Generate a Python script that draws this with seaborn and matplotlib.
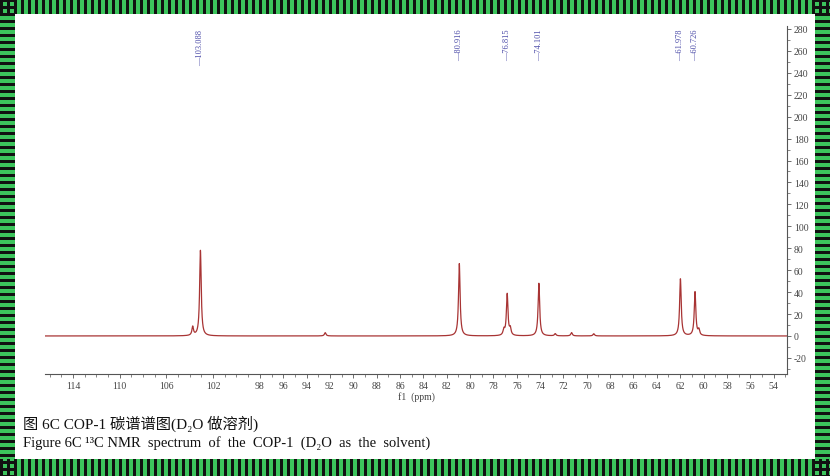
import numpy as np
import pandas as pd
import matplotlib
matplotlib.use('Agg')
import matplotlib.pyplot as plt
from matplotlib.patches import Rectangle
from matplotlib.collections import PatchCollection
from matplotlib.ticker import FixedLocator, MultipleLocator
import matplotlib.transforms as mtransforms
import seaborn as sns

# ---------------- data ----------------
peak_ppm = [103.088, 80.916, 76.815, 74.101, 61.978, 60.726]
peak_height = [78, 66, 38, 48, 52, 40]
peak_labels = ['103.088', '80.916', '76.815', '74.101', '61.978', '60.726']

small_ppm = [103.75, 92.40, 77.10, 76.55, 72.70, 71.30, 69.40, 60.40]
small_height = [8, 3, 5, 6, 2, 3, 2, 5]

x_tick_values = [114, 110, 106, 102, 98, 96, 94, 92, 90, 88, 86, 84, 82, 80,
                 78, 76, 74, 72, 70, 68, 66, 64, 62, 60, 58, 56, 54]
y_tick_values = [-20, 0, 20, 40, 60, 80, 100, 120, 140, 160, 180, 200, 220,
                 240, 260, 280]

caption_cn = "图 6C COP-1 碳谱谱图(D₂O 做溶剂)"
caption_en = "Figure 6C ¹³C NMR  spectrum  of  the  COP-1  (D₂O  as  the  solvent)"

# ---------------- spectrum from the peak list ----------------
hwhm = 0.08
ppm = np.linspace(116.4, 52.85, 20000)
inten = np.zeros_like(ppm)
for p, h in zip(peak_ppm + small_ppm, peak_height + small_height):
    inten += h * hwhm**2 / ((ppm - p)**2 + hwhm**2)
df = pd.DataFrame({'ppm': ppm, 'intensity': inten})

# ---------------- figure ----------------
sns.set_theme(style='white')
plt.rcParams['font.family'] = ['Liberation Serif', 'Noto Sans CJK SC', 'DejaVu Serif']
plt.rcParams['axes.unicode_minus'] = False

W, H = 830, 477
fig = plt.figure(figsize=(W / 100, H / 100), dpi=100)

# decorative striped frame
green = '#3cc45c'
fig.patch.set_facecolor(green)
def px(x0, y0, w, h, **kw):
    # pixel box with origin at top-left
    return Rectangle((x0 / W, 1 - (y0 + h) / H), w / W, h / H, **kw)

stripes = []
period, bw = 7.0, 2.5
x = 0.0
while x < W:
    stripes.append(px(x, 0, bw, 15))
    stripes.append(px(x, 460, bw, 17))
    x += period
y = 0.0
while y < H:
    stripes.append(px(0, y, 15, bw))
    stripes.append(px(815, y, 15, bw))
    y += period
pc = PatchCollection(stripes, facecolor='#111111', edgecolor='none',
                     transform=fig.transFigure, zorder=-2)
fig.add_artist(pc)
fig.add_artist(px(15, 15, 800, 445, facecolor='white', edgecolor='none',
                  transform=fig.transFigure, zorder=-1))

ax = fig.add_axes([45 / W, (H - 375) / H, 742 / W, 348 / H])
ax.set_facecolor('none')
sns.lineplot(data=df, x='ppm', y='intensity', ax=ax, color='#a83434',
             linewidth=0.9, estimator=None, sort=False)

ax.set_xlim(116.4, 52.85)
ax.set_ylim(-34.7, 282.7)

for s in ['top', 'left']:
    ax.spines[s].set_visible(False)
for s in ['right', 'bottom']:
    ax.spines[s].set_color('#555555')
    ax.spines[s].set_linewidth(0.8)

ax.yaxis.tick_right()
ax.yaxis.set_major_locator(FixedLocator(y_tick_values))
ax.yaxis.set_minor_locator(MultipleLocator(10))
ax.xaxis.set_major_locator(FixedLocator(x_tick_values))
ax.xaxis.set_minor_locator(MultipleLocator(1))

ax.tick_params(axis='both', which='major', labelsize=7, labelcolor='#444444',
               color='#555555', length=3, width=0.6, direction='out', pad=2)
ax.tick_params(axis='both', which='minor', color='#555555', length=2,
               width=0.5, direction='out')
ax.tick_params(axis='y', which='both', right=True, left=False)
ax.tick_params(axis='x', which='both', bottom=True, top=False)

ax.set_xlabel('f1  (ppm)', fontsize=7, color='#444444', labelpad=1)
ax.set_ylabel('')

trans = mtransforms.blended_transform_factory(ax.transData, ax.transAxes)
for p, lab in zip(peak_ppm, peak_labels):
    ax.text(p, 0.992, '—' + lab, transform=trans, rotation=90, ha='center',
            va='top', fontsize=6, color='#4b4ba8')

fig.text(23 / W, (H - 424) / H, caption_cn, fontsize=11, color='#111111',
         va='center', ha='left')
fig.text(23 / W, (H - 443) / H, caption_en, fontsize=10.5, color='#111111',
         va='center', ha='left')

fig.savefig('out.png', dpi=100, facecolor=fig.get_facecolor())
